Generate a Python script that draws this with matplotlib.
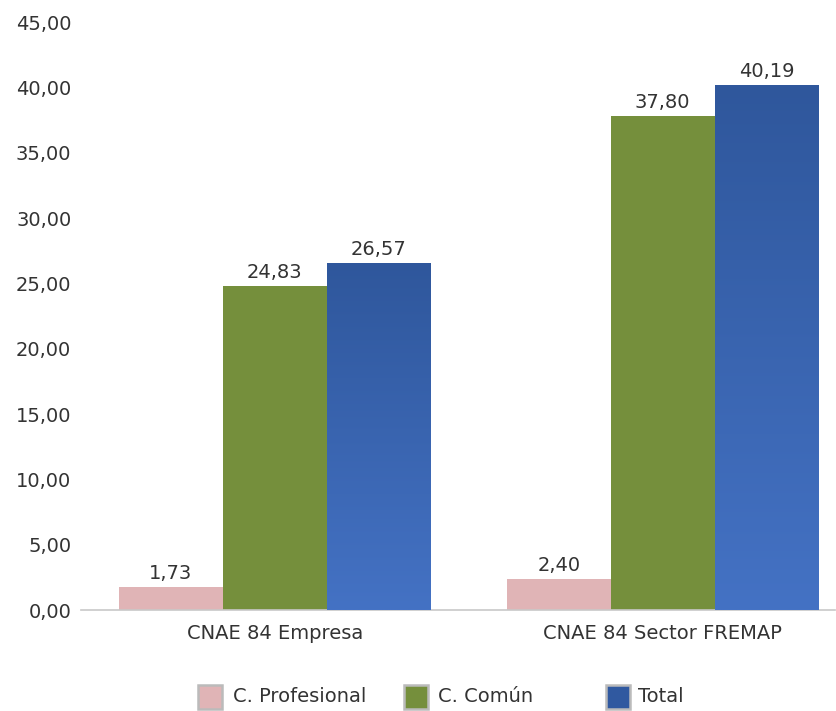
import matplotlib
matplotlib.use("Agg")
import matplotlib.pyplot as plt
import numpy as np
from matplotlib.patches import Rectangle
from matplotlib.colors import LinearSegmentedColormap

categories = ["CNAE 84 Empresa", "CNAE 84 Sector FREMAP"]
series_names = ["C. Profesional", "C. Común", "Total"]
profesional = [1.73, 2.40]
comun = [24.83, 37.80]
total = [26.57, 40.19]
yticks = [0, 5, 10, 15, 20, 25, 30, 35, 40, 45]

plt.rcParams['font.family'] = ['DejaVu Sans']
text_color = "#333333"
fs = 14

fig = plt.figure(figsize=(8.37, 7.11), dpi=100)
ax = fig.add_axes([81 / 837, 1 - 610 / 711, (835 - 81) / 837, 588 / 711])

x = np.arange(len(categories))
w = 0.268
colors = ["#E0B4B6", "#758F3C", "#3F6AB8"]
values = [profesional, comun, total]
offsets = [-w, 0, w]

blue_cmap = LinearSegmentedColormap.from_list("b", ["#4472C4", "#2F579C"])
for vals, off, col, name in zip(values, offsets, colors, series_names):
    bars = ax.bar(x + off, vals, width=w, color=col, label=name, linewidth=0, zorder=2)
    if name == "Total":
        for b in bars:
            x0, y0 = b.get_x(), b.get_y()
            x1, y1 = x0 + b.get_width(), y0 + b.get_height()
            grad = np.linspace(0, 1, 256).reshape(-1, 1)
            im = ax.imshow(grad, cmap=blue_cmap, aspect='auto', extent=[x0, x1, y0, y1],
                           origin='lower', zorder=3)
            im.set_clip_path(b)
    for xi, v in zip(x + off, vals):
        ax.text(xi, v + 0.3, f"{v:.2f}".replace(".", ","), ha='center', va='bottom',
                fontsize=fs, color=text_color, zorder=4)

ax.set_xlim(-0.5, 1.5 - (856.5 - 835) / 388)
ax.set_ylim(0, 45)
ax.set_yticks(yticks)
ax.set_yticklabels([f"{t:.2f}".replace(".", ",") for t in yticks], fontsize=fs, color=text_color)
ax.set_xticks(x)
ax.set_xticklabels(categories, fontsize=fs, color=text_color)
ax.tick_params(axis='y', length=0, pad=7)
ax.tick_params(axis='x', length=0, pad=10)
for s in ["top", "right", "left"]:
    ax.spines[s].set_visible(False)
ax.spines["bottom"].set_color("#C8C8C8")
ax.spines["bottom"].set_linewidth(1.2)

# Legend drawn manually (uneven item spacing as in reference)
W, H = 837, 711
legend_colors = ["#E0B4B6", "#758F3C", "#3059A0"]
square_x = [198, 404, 606]
text_x = [233, 438, 638]
ly = 697
sq = 24
for c, sx, tx, name in zip(legend_colors, square_x, text_x, series_names):
    fig.patches.append(Rectangle((sx / W, (H - ly - sq / 2) / H), sq / W, sq / H,
                                 transform=fig.transFigure, facecolor=c,
                                 edgecolor="#BBBBBB", linewidth=1.8))
    fig.text(tx / W, (H - ly) / H, name, ha='left', va='center', fontsize=fs, color=text_color)

fig.savefig("out.png", dpi=100)
